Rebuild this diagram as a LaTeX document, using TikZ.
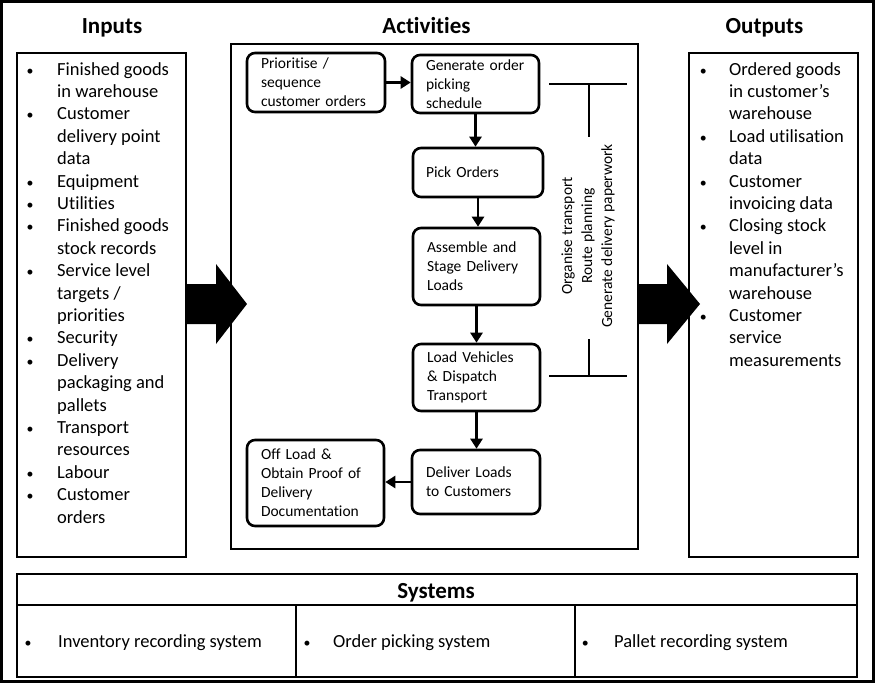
\documentclass[tikz,border=0pt]{standalone}
\usepackage{fontspec}
\setmainfont{Carlito}[Ligatures=NoCommon]
\usetikzlibrary{arrows.meta}

\newcommand{\bul}{\makebox[0pt]{\scalebox{0.75}{\textbullet}}}

\tikzset{
  frame/.style={draw, line width=2.6pt},
  actbox/.style={draw, line width=2.6pt, rounded corners=8pt, align=left,
    inner xsep=14pt, inner ysep=0pt, font=\fontsize{15.5}{19}\selectfont},
  flow/.style={line width=2.8pt, -{Triangle[length=10pt,width=12pt]}},
  title/.style={anchor=base, inner sep=0pt, font=\fontsize{23}{28}\selectfont\bfseries},
  listtxt/.style={anchor=north west, inner sep=0pt, font=\fontsize{18.5}{22.4}\selectfont},
  sysitem/.style={anchor=base west, inner sep=0pt, font=\fontsize{18.5}{22.4}\selectfont},
  bigarrow/.style={fill=black},
}

\begin{document}
\begin{tikzpicture}[x=1pt, y=-1pt]
    \fill[white] (0,0) rectangle (875,683);
    \useasboundingbox (0,0) rectangle (875,683);

    % Outer frame
    \draw[frame] (1.5,1.5) rectangle (873.5,681.5);

    % Titles
    \node[title] (tin) at (112,33) {Inputs};
    \node[title] (tact) at (426.5,33) {Activities};
    \node[title] (tout) at (764.5,33) {Outputs};

    % Column boxes
    \draw[frame] (17,53) rectangle (186,557);
    \draw[frame] (231,44) rectangle (638,549);
    \draw[frame] (689,53) rectangle (858,557);

    % Inputs list
    \node[listtxt] (inputs) at (17,59.3) {%
      \begin{tabular}{@{\hspace{13pt}}c@{\hspace{27pt}}l@{}}
        \bul & Finished goods\\
             & in warehouse\\
        \bul & Customer\\
             & delivery point\\
             & data\\
        \bul & Equipment\\
        \bul & Utilities\\
        \bul & Finished goods\\
             & stock records\\
        \bul & Service level\\
             & targets /\\
             & priorities\\
        \bul & Security\\
        \bul & Delivery\\
             & packaging and\\
             & pallets\\
        \bul & Transport\\
             & resources\\
        \bul & Labour\\
        \bul & Customer\\
             & orders\\
      \end{tabular}};

    % Outputs list
    \node[listtxt] (outputs) at (689,59.3) {%
      \begin{tabular}{@{\hspace{14pt}}c@{\hspace{26pt}}l@{}}
        \bul & Ordered goods\\
             & in customer’s\\
             & warehouse\\
        \bul & Load utilisation\\
             & data\\
        \bul & Customer\\
             & invoicing data\\
        \bul & Closing stock\\
             & level in\\
             & manufacturer’s\\
             & warehouse\\
        \bul & Customer\\
             & service\\
             & measurements\\
      \end{tabular}};

    % Activity steps
    \node[actbox, text width=110pt, minimum height=59pt] (prio) at (316,82.5) {Prioritise /\\sequence\\customer orders};
    \node[actbox, text width=99pt, minimum height=58pt] (gen) at (475.5,84) {Generate order\\picking\\schedule};
    \node[actbox, text width=104pt, minimum height=49pt, inner xsep=13pt] (pick) at (478,172.5) {Pick Orders};
    \node[actbox, text width=99pt, minimum height=77pt] (asm) at (476.5,266.5) {Assemble and\\Stage Delivery\\Loads};
    \node[actbox, text width=99pt, minimum height=67pt] (load) at (476.5,377.5) {Load Vehicles\\\& Dispatch\\Transport};
    \node[actbox, text width=100pt, minimum height=64pt] (deliv) at (476,482) {Deliver Loads\\to Customers};
    \node[actbox, text width=109pt, minimum height=86pt] (offload) at (315.5,483) {Off Load \&\\Obtain Proof of\\Delivery\\Documentation};

    % Flow arrows
    \draw[flow] (prio.east) -- (prio.east -| gen.west);
    \draw[flow] (gen.south) -- (gen.south |- pick.north);
    \draw[flow] (pick.south) -- (pick.south |- asm.north);
    \draw[flow] (asm.south) -- (asm.south |- load.north);
    \draw[flow] (load.south) -- (load.south |- deliv.north);
    \draw[flow] (deliv.west) -- (deliv.west -| offload.east);

    % Transport tasks bracket
    \node[rotate=90, align=center, inner sep=0pt, font=\fontsize{15.5}{20}\selectfont] (tasks) at (588,236)
      {Organise transport\\Route planning\\Generate delivery paperwork};
    \coordinate (tl) at (549,84);
    \coordinate (tr) at (627,84);
    \coordinate (tm) at (589,84);
    \coordinate (ts) at (589,137);
    \coordinate (bl) at (549,376);
    \coordinate (br) at (627,376);
    \coordinate (bm) at (589,376);
    \coordinate (bs) at (589,339);
    \draw[line width=2.6pt] (tl) -- (tr);
    \draw[line width=2.6pt] (tm) -- (ts);
    \draw[line width=2.6pt] (bl) -- (br);
    \draw[line width=2.6pt] (bm) -- (bs);

    % Big arrows
    \fill[bigarrow] (186,284) -- (216,284) -- (216,264) -- (247,304) -- (216,344) -- (216,324) -- (186,324) -- cycle;
    \fill[bigarrow] (638,284) -- (667,284) -- (667,264) -- (700,304) -- (667,344) -- (667,324) -- (638,324) -- cycle;

    % Systems
    \draw[frame] (17,574) rectangle (857,677);
    \draw[frame] (17,605) -- (857,605);
    \draw[frame] (296,605) -- (296,677);
    \draw[frame] (575,605) -- (575,677);
    \node[title] (tsys) at (436,598) {Systems};
    \node[sysitem] (sys1) at (28,647) {\bul\hspace{30pt}Inventory recording system};
    \node[sysitem] (sys2) at (307,647) {\bul\hspace{26pt}Order picking system};
    \node[sysitem] (sys3) at (585,647) {\bul\hspace{29pt}Pallet recording system};
  \end{tikzpicture}
\end{document}
